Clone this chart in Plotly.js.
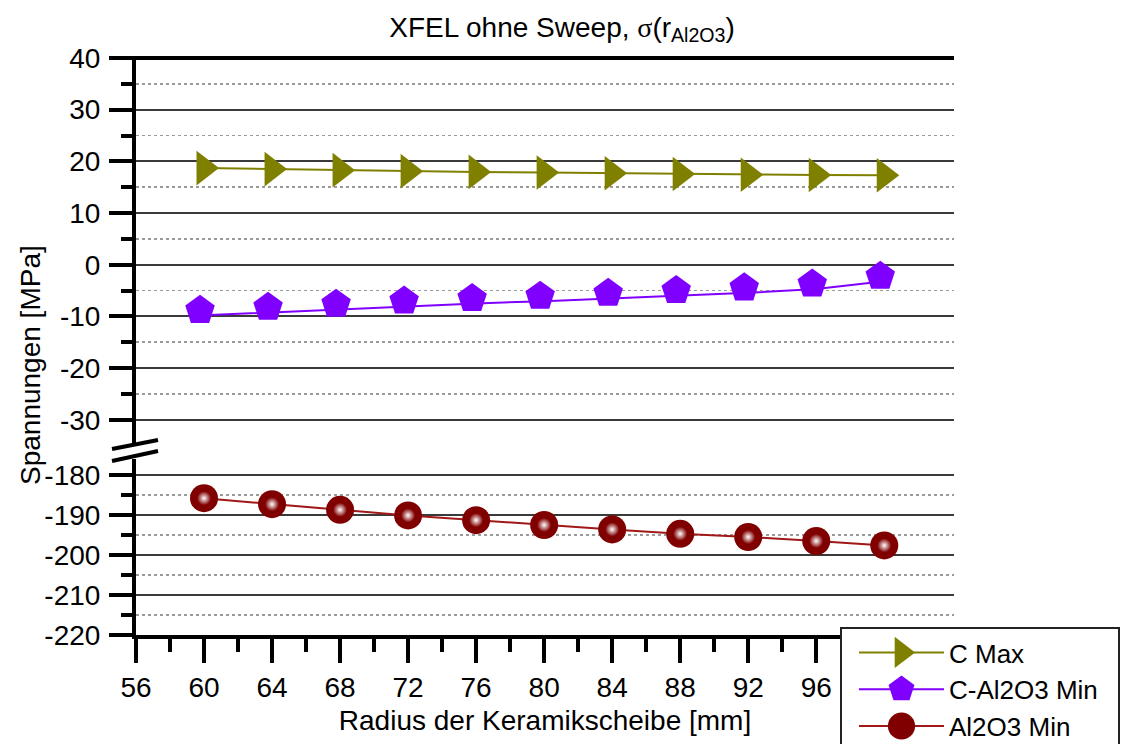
<!DOCTYPE html>
<html>
<head>
<meta charset="utf-8">
<script src="https://cdn.plot.ly/plotly-3.0.1.min.js"></script>
<style>html,body{margin:0;padding:0;background:#fff}#chart{width:1125px;height:744px}</style>
</head>
<body>
<div id="chart"></div>
<script>
// Data
const radius = [60, 64, 68, 72, 76, 80, 84, 88, 92, 96, 100];
const cMax = [18.7, 18.5, 18.3, 18.1, 17.95, 17.85, 17.7, 17.55, 17.4, 17.35, 17.3];
const cAl2O3Min = [-9.8, -9.2, -8.6, -8.0, -7.5, -7.05, -6.5, -5.95, -5.45, -4.7, -3.2];
const al2o3Min = [-185.8, -187.3, -188.7, -190.1, -191.3, -192.5, -193.6, -194.7, -195.5, -196.5, -197.6];
const seriesNames = ['C Max', 'C-Al2O3 Min', 'Al2O3 Min'];
const xTickVals = [56, 60, 64, 68, 72, 76, 80, 84, 88, 92, 96, 100];
const yUpperTickVals = [40, 30, 20, 10, 0, -10, -20, -30];
const yUpperTickText = ['40', '30', '20', '10', '0', '-10', '-20', '-30'];
const yLowerTickVals = [-180, -190, -200, -210, -220];
const yLowerTickText = ['-180', '-190', '-200', '-210', '-220'];

const FONT = 'Liberation Sans, Arial, sans-serif';
const traces = [
  {x: radius, y: cMax, name: seriesNames[0], xaxis: 'x', yaxis: 'y2', mode: 'lines+markers',
   line: {color: '#808000', width: 2}, marker: {symbol: 'triangle-right', size: 30, color: '#808000'}},
  {x: radius, y: cAl2O3Min, name: seriesNames[1], xaxis: 'x', yaxis: 'y2', mode: 'lines+markers',
   line: {color: '#8000ff', width: 2}, marker: {symbol: 'pentagon', size: 31, color: '#8000ff'}},
  {x: radius, y: al2o3Min, name: seriesNames[2], xaxis: 'x', yaxis: 'y', mode: 'lines+markers',
   line: {color: '#a01818', width: 2}, marker: {symbol: 'circle', size: 28, color: '#800000'}},
  {x: radius, y: al2o3Min, name: 'hl', xaxis: 'x', yaxis: 'y', mode: 'markers', showlegend: false, hoverinfo: 'skip',
   marker: {symbol: 'circle', size: 14, color: '#800000', gradient: {type: 'radial', color: '#ffffff'}}}
];

const gridMajor = '#3a3a3a';
const gridMinor = '#9a9a9a';
const yCommon = {
  tickmode: 'array', ticks: 'outside', ticklen: 23, tickwidth: 4, tickcolor: '#000',
  showline: true, linewidth: 4, linecolor: '#000', showgrid: true, gridcolor: gridMajor, gridwidth: 2,
  zeroline: false, tickfont: {family: FONT, size: 28, color: '#000'}, ticklabelstandoff: 3,
  minor: {tick0: 0, dtick: 5, ticks: 'outside', ticklen: 11, tickwidth: 4, tickcolor: '#000',
          showgrid: true, gridcolor: gridMinor, gridwidth: 1.5, griddash: 'dot'}
};

const px = v => (v - 136) / 818;
const py = v => (635 - v) / 577;

const layout = {
  width: 1125, height: 744,
  paper_bgcolor: '#fff', plot_bgcolor: '#fff',
  margin: {l: 136, r: 171, t: 58, b: 109, autoexpand: false},
  title: {text: 'XFEL ohne Sweep, <span style="font-family:\'Liberation Serif\',serif">σ</span>(r<sub>Al2O3</sub>)',
          font: {family: FONT, size: 28, color: '#000'}, x: 0.4996, xanchor: 'center', y: 0.964, yanchor: 'middle'},
  xaxis: {
    range: [56, 104.1], tickmode: 'array', tickvals: xTickVals, ticks: 'outside', ticklen: 24, tickwidth: 4, tickcolor: '#000',
    showline: true, linewidth: 4, linecolor: '#000', showgrid: false, zeroline: false, anchor: 'y',
    tickfont: {family: FONT, size: 28, color: '#000'}, ticklabelstandoff: 0,
    minor: {dtick: 2, tick0: 0, ticks: 'outside', ticklen: 13, tickwidth: 4, tickcolor: '#000', showgrid: false},
    title: {text: 'Radius der Keramikscheibe [mm]', font: {family: FONT, size: 28, color: '#000'}, standoff: 10}
  },
  yaxis: Object.assign({}, yCommon, {domain: [0, 0.305], range: [-220, -176], tickvals: yLowerTickVals, ticktext: yLowerTickText}),
  yaxis2: Object.assign({}, yCommon, {domain: [0.3328, 1], range: [-34.5, 40], anchor: 'x', tickvals: yUpperTickVals, ticktext: yUpperTickText}),
  showlegend: true,
  legend: {x: px(840), y: py(627), xanchor: 'left', yanchor: 'top', bgcolor: '#fff',
           bordercolor: '#222', borderwidth: 2, font: {family: FONT, size: 26, color: '#000'},
           itemwidth: 85, tracegroupgap: 0},
  annotations: [
    {text: 'Spannungen [MPa]', xref: 'paper', yref: 'paper', x: px(30), y: py(365), textangle: -90,
     showarrow: false, xanchor: 'center', yanchor: 'middle', font: {family: FONT, size: 28, color: '#000'}}
  ],
  shapes: [
    {type: 'line', xref: 'paper', yref: 'paper', x0: px(110), x1: 1, y0: 1, y1: 1, line: {color: '#000', width: 4}},
    {type: 'path', xref: 'paper', yref: 'paper',
     path: `M${px(112)},${py(449)} L${px(158)},${py(440)} L${px(158)},${py(451)} L${px(112)},${py(460)} Z`,
     fillcolor: '#fff', line: {width: 0}},
    {type: 'line', xref: 'paper', yref: 'paper', x0: px(112), y0: py(449), x1: px(158), y1: py(440), line: {color: '#000', width: 4}},
    {type: 'line', xref: 'paper', yref: 'paper', x0: px(112), y0: py(461), x1: px(158), y1: py(451), line: {color: '#000', width: 4}}
  ]
};

Plotly.newPlot('chart', traces, layout, {displayModeBar: false, staticPlot: true}).then(gd => {
  const tr = gd.querySelectorAll('.scatterlayer .trace');
  if (tr[3]) {
    tr[3].querySelectorAll('path.point').forEach(p => {
      const t = p.getAttribute('transform') || '';
      const m = t.match(/translate\(([-\d.e]+),\s*([-\d.e]+)\)/);
      if (m) p.setAttribute('transform', `translate(${+m[1] - 4},${+m[2] - 5})`);
    });
  }
  gd.querySelectorAll('.legend .traces path.scatterpts').forEach(p => {
    p.setAttribute('transform', (p.getAttribute('transform') || '') + ' scale(1.7)');
  });
  gd.querySelectorAll('.legend g.traces').forEach(g => {
    const t = g.getAttribute('transform') || '';
    const m = t.match(/translate\(([-\d.e]+),\s*([-\d.e]+)\)/);
    if (m) g.setAttribute('transform', `translate(${+m[1] + 12},${+m[2]})`);
  });
  const W = 278;
  const bg = gd.querySelector('.legend rect.bg');
  if (bg) bg.setAttribute('width', W);
  const sb = gd.querySelector('.legend .scrollbox');
  if (sb) {
    const cp = sb.getAttribute('clip-path') || '';
    const m = cp.match(/#([^)"']+)/);
    if (m) {
      const c = document.getElementById(m[1]);
      if (c) c.querySelectorAll('rect').forEach(r => r.setAttribute('width', W));
    }
  }
});
</script>
</body>
</html>
